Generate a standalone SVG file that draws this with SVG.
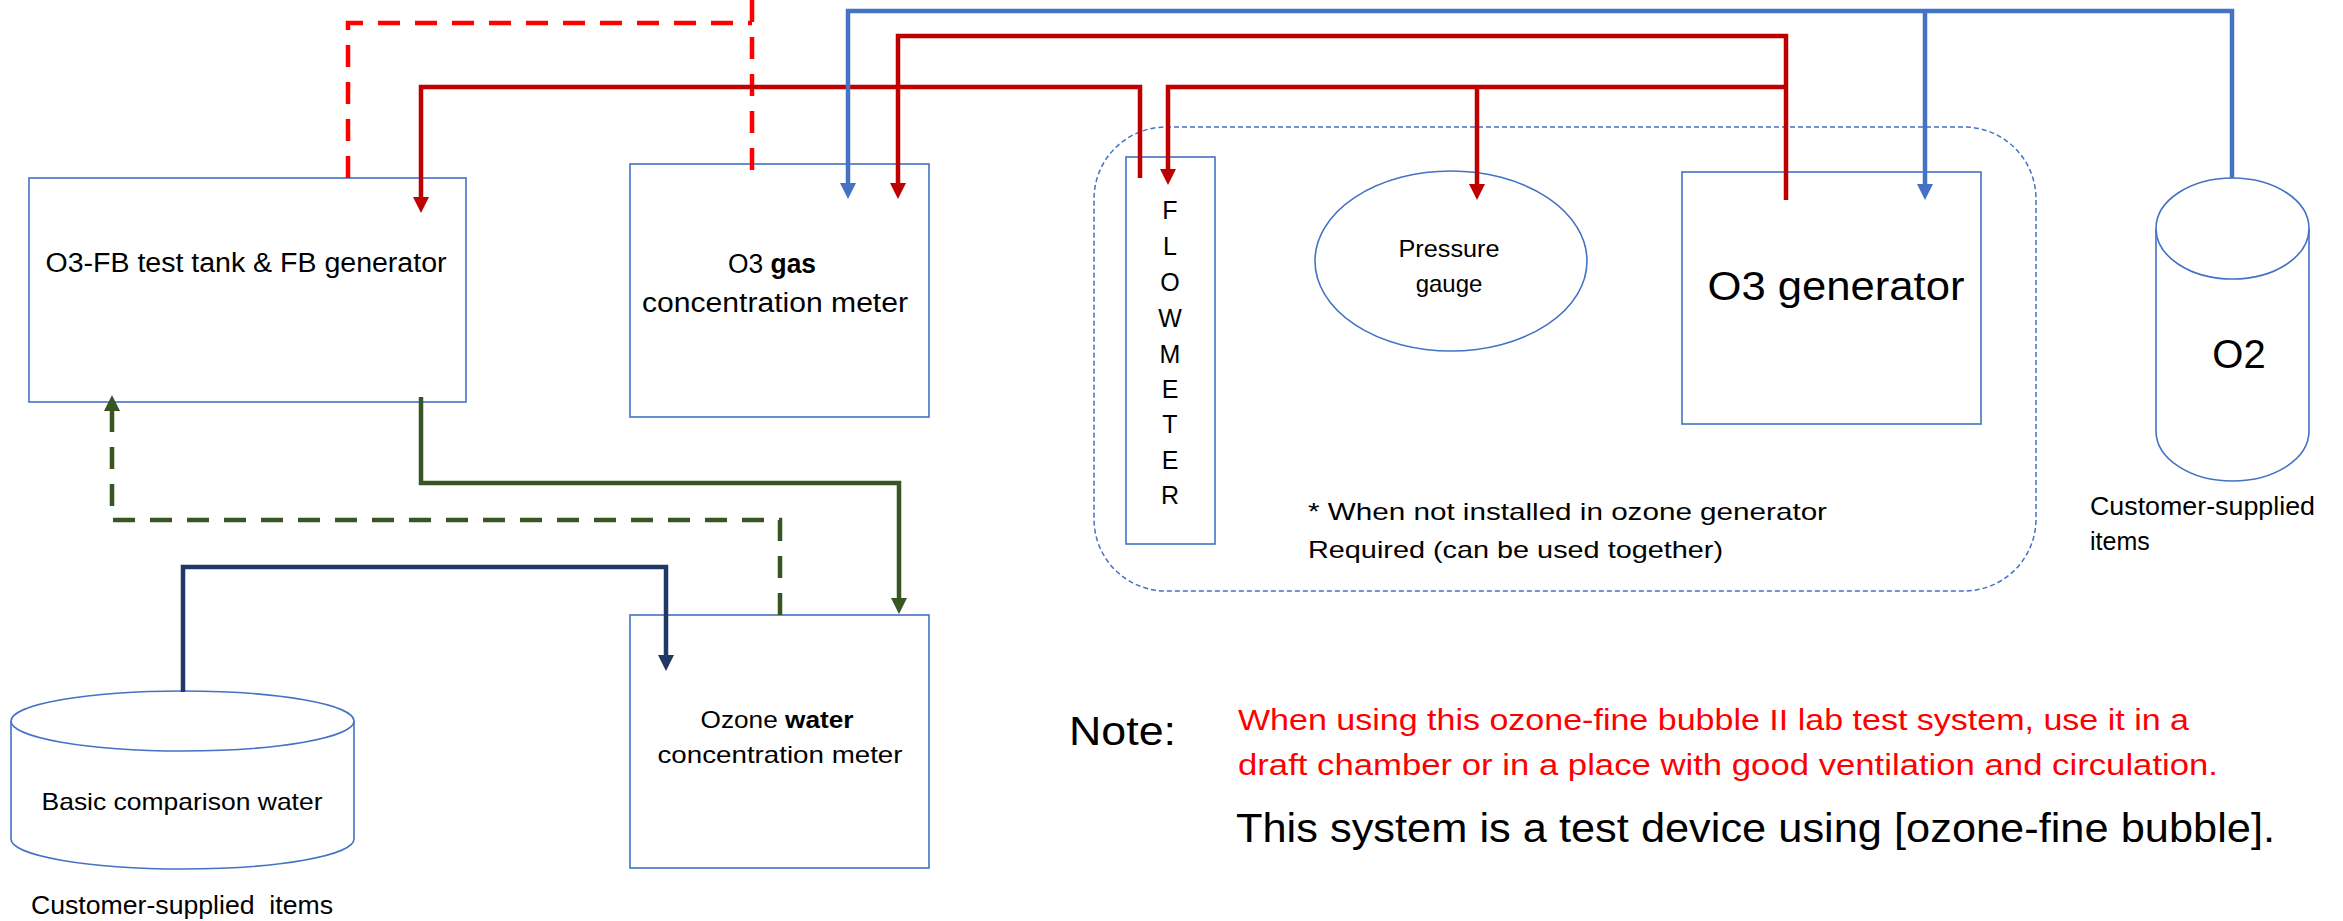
<svg xmlns="http://www.w3.org/2000/svg" width="2343" height="921" viewBox="0 0 2343 921">
<style>
.box{fill:#fff;stroke:#4472C4;stroke-width:1.6}
.shape{fill:none;stroke:#4472C4;stroke-width:1.6}
.t{font-family:"Liberation Sans",Arial,sans-serif;fill:#000}
.c{fill:none;stroke-width:4.5;stroke-linejoin:miter;stroke-linecap:butt}
.red{stroke:#C00000}
.blue{stroke:#4472C4}
.green{stroke:#375623}
.navy{stroke:#203864}
.dash{stroke-dasharray:22 15}
.rdash{stroke:#FF0000}
</style>
<defs>
<marker id="ar" markerUnits="userSpaceOnUse" markerWidth="16" markerHeight="16" viewBox="0 0 16 16" refX="4" refY="8" orient="auto"><path d="M0,0 L16,8 L0,16 z" fill="#C00000"/></marker>
<marker id="ab" markerUnits="userSpaceOnUse" markerWidth="16" markerHeight="16" viewBox="0 0 16 16" refX="4" refY="8" orient="auto"><path d="M0,0 L16,8 L0,16 z" fill="#4472C4"/></marker>
<marker id="ag" markerUnits="userSpaceOnUse" markerWidth="16" markerHeight="16" viewBox="0 0 16 16" refX="4" refY="8" orient="auto"><path d="M0,0 L16,8 L0,16 z" fill="#375623"/></marker>
<marker id="an" markerUnits="userSpaceOnUse" markerWidth="16" markerHeight="16" viewBox="0 0 16 16" refX="4" refY="8" orient="auto"><path d="M0,0 L16,8 L0,16 z" fill="#203864"/></marker>
</defs>
<rect width="2343" height="921" fill="#fff"/>

<g id="optional-group">
<rect x="1094" y="127" width="942" height="464" rx="72" ry="72" fill="none" stroke="#4472C4" stroke-width="1.5" stroke-dasharray="5 3"/>
<text class="t" x="1308" y="520" font-size="24" textLength="519" lengthAdjust="spacingAndGlyphs">* When not installed in ozone generator</text>
<text class="t" x="1308" y="558" font-size="24" textLength="415" lengthAdjust="spacingAndGlyphs">Required (can be used together)</text>
</g>

<g id="tank">
<rect class="box" x="29" y="178" width="437" height="224"/>
<text class="t" x="246" y="272" font-size="27" text-anchor="middle" textLength="401" lengthAdjust="spacingAndGlyphs">O3-FB test tank &amp; FB generator</text>
</g>

<g id="gas-meter">
<rect class="box" x="630" y="164" width="299" height="253"/>
<text class="t" x="772" y="273" font-size="27" text-anchor="middle" textLength="88" lengthAdjust="spacingAndGlyphs">O3 <tspan font-weight="bold">gas</tspan></text>
<text class="t" x="775" y="312" font-size="27" text-anchor="middle" textLength="266" lengthAdjust="spacingAndGlyphs">concentration meter</text>
</g>

<g id="flowmeter">
<rect class="box" x="1126" y="157" width="89" height="387"/>
<g class="t" font-size="25" text-anchor="middle">
<text x="1170" y="219">F</text>
<text x="1170" y="255">L</text>
<text x="1170" y="291">O</text>
<text x="1170" y="327">W</text>
<text x="1170" y="363">M</text>
<text x="1170" y="398">E</text>
<text x="1170" y="433">T</text>
<text x="1170" y="469">E</text>
<text x="1170" y="504">R</text>
</g>
</g>

<g id="pressure-gauge">
<ellipse class="box" cx="1451" cy="261" rx="136" ry="90"/>
<text class="t" x="1449" y="257" font-size="24" text-anchor="middle" textLength="101" lengthAdjust="spacingAndGlyphs">Pressure</text>
<text class="t" x="1449" y="292" font-size="24" text-anchor="middle">gauge</text>
</g>

<g id="o3-generator">
<rect class="box" x="1682" y="172" width="299" height="252"/>
<text class="t" x="1836" y="300" font-size="40" text-anchor="middle" textLength="257" lengthAdjust="spacingAndGlyphs">O3 generator</text>
</g>

<g id="o2-cylinder">
<path class="box" d="M2156,228.5 L2156,431 A76.5,50 0 0 0 2309,431 L2309,228.5"/>
<ellipse class="box" cx="2232.5" cy="228.5" rx="76.5" ry="50.5"/>
<text class="t" x="2239" y="368" font-size="40" text-anchor="middle">O2</text>
<text class="t" x="2090" y="515" font-size="25" textLength="225" lengthAdjust="spacingAndGlyphs">Customer-supplied</text>
<text class="t" x="2090" y="550" font-size="25">items</text>
</g>

<g id="basic-water">
<path class="box" d="M11,721 L11,839 A171.5,30 0 0 0 354,839 L354,721"/>
<ellipse class="box" cx="182.5" cy="721" rx="171.5" ry="30"/>
<text class="t" x="182" y="810" font-size="24" text-anchor="middle" textLength="281" lengthAdjust="spacingAndGlyphs">Basic comparison water</text>
<text class="t" x="31" y="914" font-size="25" textLength="302" lengthAdjust="spacingAndGlyphs">Customer-supplied&#160; items</text>
</g>

<g id="water-meter">
<rect class="box" x="630" y="615" width="299" height="253"/>
<text class="t" x="777" y="728" font-size="24" text-anchor="middle" textLength="153" lengthAdjust="spacingAndGlyphs">Ozone <tspan font-weight="bold">water</tspan></text>
<text class="t" x="780" y="763" font-size="24" text-anchor="middle" textLength="245" lengthAdjust="spacingAndGlyphs">concentration meter</text>
</g>

<g id="connectors">
<path class="c rdash dash" d="M348,178 V23 H752"/>
<path class="c rdash dash" d="M752,0 V170"/>
<path class="c red" d="M1140,178 V87 H421 V201" marker-end="url(#ar)"/>
<path class="c red" d="M1786,200 V36 H898 V187" marker-end="url(#ar)"/>
<path class="c red" d="M1786,87 H1168 V173" marker-end="url(#ar)"/>
<path class="c red" d="M1477,87 V188" marker-end="url(#ar)"/>
<path class="c blue" d="M2232,178 V11 H848 V187" marker-end="url(#ab)"/>
<path class="c blue" d="M1925,11 V188" marker-end="url(#ab)"/>
<path class="c green" d="M421,397 V483 H899 V602" marker-end="url(#ag)"/>
<path class="c green dash" d="M780,615 V520 H112 V407" marker-end="url(#ag)"/>
<path class="c navy" d="M183,692 V567 H666 V659" marker-end="url(#an)"/>
</g>

<g id="notes">
<text class="t" x="1069" y="745" font-size="40" textLength="107" lengthAdjust="spacingAndGlyphs">Note:</text>
<text class="t" x="1238" y="730" font-size="29" fill="#FF0000" style="fill:#FF0000" textLength="951" lengthAdjust="spacingAndGlyphs">When using this ozone-fine bubble II lab test system, use it in a</text>
<text class="t" x="1238" y="775" font-size="29" style="fill:#FF0000" textLength="980" lengthAdjust="spacingAndGlyphs">draft chamber or in a place with good ventilation and circulation.</text>
<text class="t" x="1236" y="842" font-size="40" textLength="1039" lengthAdjust="spacingAndGlyphs">This system is a test device using [ozone-fine bubble].</text>
</g>
</svg>
